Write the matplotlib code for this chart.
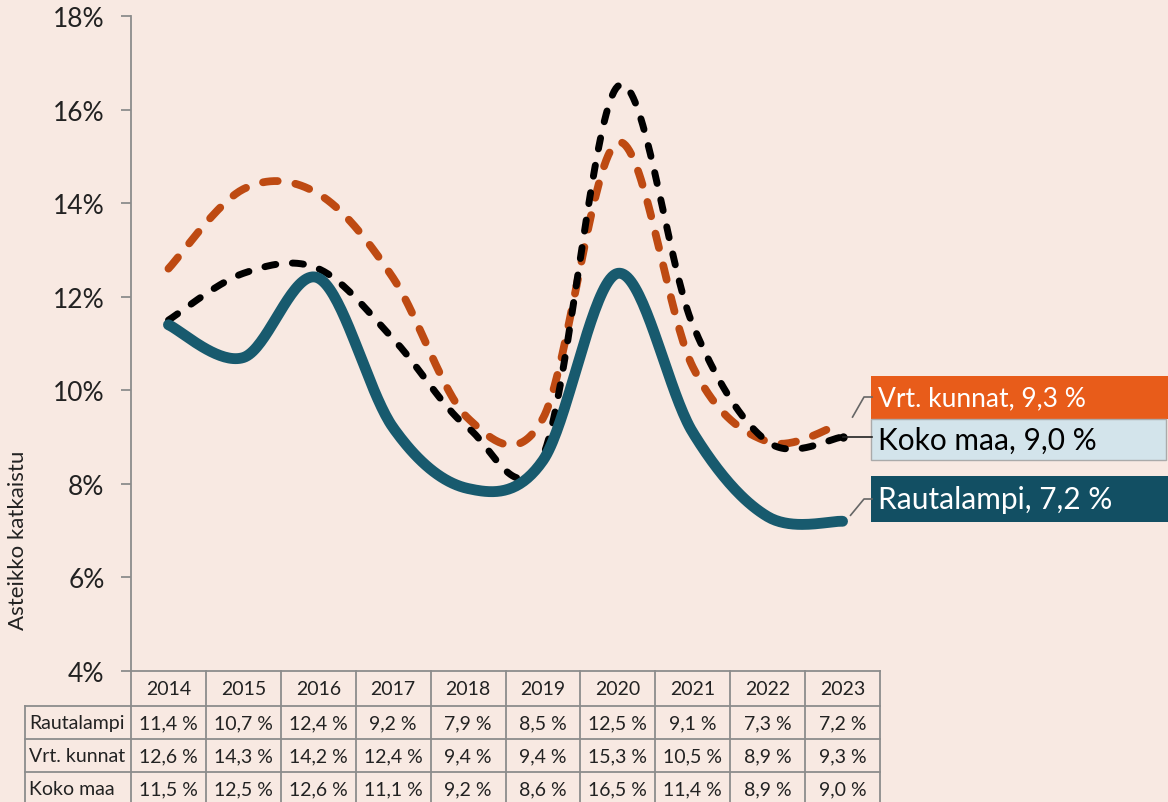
import matplotlib
matplotlib.use("Agg")
import matplotlib.pyplot as plt
import matplotlib.transforms as mtransforms
import numpy as np

years = ["2014", "2015", "2016", "2017", "2018", "2019", "2020", "2021", "2022", "2023"]
rautalampi = [11.4, 10.7, 12.4, 9.2, 7.9, 8.5, 12.5, 9.1, 7.3, 7.2]
vrt_kunnat = [12.6, 14.3, 14.2, 12.4, 9.4, 9.4, 15.3, 10.5, 8.9, 9.3]
koko_maa = [11.5, 12.5, 12.6, 11.1, 9.2, 8.6, 16.5, 11.4, 8.9, 9.0]
row_names = ["Rautalampi", "Vrt. kunnat", "Koko maa"]
y_ticks = [4, 6, 8, 10, 12, 14, 16, 18]

BG = "#F8E9E2"
TEAL = "#185A6E"
ORANGE = "#BE4A12"
W, H = 1168, 803

plt.rcParams['font.family'] = ['Lato', 'DejaVu Sans']


def fmt(v):
    return f"{v:.1f}".replace(".", ",") + " %"


def smooth(vals, n=40):
    # excel-like smoothed line (bezier, control points from neighbours)
    x = np.arange(len(vals), dtype=float)
    y = np.array(vals, dtype=float)
    xs, ys = [], []
    for i in range(len(x) - 1):
        i0 = max(i - 1, 0)
        i3 = min(i + 2, len(x) - 1)
        p0 = np.array([x[i], y[i]])
        p3 = np.array([x[i + 1], y[i + 1]])
        p1 = p0 + (np.array([x[i + 1], y[i + 1]]) - np.array([x[i0], y[i0]])) / 6
        p2 = p3 - (np.array([x[i3], y[i3]]) - np.array([x[i], y[i]])) / 6
        t = np.linspace(0, 1, n)[:, None]
        pts = (1 - t) ** 3 * p0 + 3 * (1 - t) ** 2 * t * p1 + 3 * (1 - t) * t ** 2 * p2 + t ** 3 * p3
        xs.extend(pts[:, 0])
        ys.extend(pts[:, 1])
    return np.array(xs), np.array(ys)


fig = plt.figure(figsize=(W / 100, H / 100), dpi=100, facecolor=BG)
ax = fig.add_axes([131 / W, 1 - 672 / H, (880 - 131) / W, (672 - 17) / H])
ax.set_facecolor(BG)

x1, y1 = smooth(vrt_kunnat)
ax.plot(x1, y1, color=ORANGE, lw=5.6, dashes=(1.9, 2.3), dash_capstyle='round')
x2, y2 = smooth(koko_maa)
ax.plot(x2, y2, color="black", lw=5.0, dashes=(1.6, 2.4), dash_capstyle='round')
x3, y3 = smooth(rautalampi)
ax.plot(x3, y3, color=TEAL, lw=7.8, solid_capstyle='round')

ax.set_xlim(-0.5, len(years) - 0.5)
ax.set_ylim(4, 18)
ax.set_yticks(y_ticks)
ax.set_yticklabels([f"{t}%" for t in y_ticks], fontsize=19, color="#222222")
ax.set_xticks([])
for s in ["top", "right", "bottom"]:
    ax.spines[s].set_visible(False)
ax.spines["left"].set_color("#8C8C8C")
ax.spines["left"].set_linewidth(1.3)
ax.tick_params(axis="y", direction="out", length=7, width=1.3, color="#8C8C8C", pad=12)
fig.text(18 / W, 1 - 540 / H, "Asteikko katkaistu", rotation=90, ha="center", va="center",
         fontsize=16, color="#222222")

# table under the chart
tr = mtransforms.blended_transform_factory(ax.transData, fig.transFigure)
grid = "#8C8C8C"
row_edges = [672, 707, 740, 773, 806]
left_px = 25
n = len(years)


def fy(p):
    return 1 - p / H


ax.plot([-0.5, n - 0.5], [fy(672)] * 2, transform=tr, color=grid, lw=1.3, clip_on=False)
for e in row_edges[1:]:
    ax.plot([left_px / W, 880 / W], [fy(e)] * 2, transform=fig.transFigure, color=grid,
            lw=1.3, clip_on=False)
for i in range(n + 1):
    ax.plot([i - 0.5, i - 0.5], [fy(672), fy(806)], transform=tr, color=grid, lw=1.3,
            clip_on=False)
ax.plot([left_px / W] * 2, [fy(707), fy(806)], transform=fig.transFigure, color=grid,
        lw=1.3, clip_on=False)

for i, yr in enumerate(years):
    ax.text(i, fy(690), yr, transform=tr, ha="center", va="center", fontsize=14,
            color="#222222")
for r, (name, vals) in enumerate(zip(row_names, [rautalampi, vrt_kunnat, koko_maa])):
    yc = fy((row_edges[r + 1] + row_edges[r + 2]) / 2)
    fig.text(29 / W, yc, name, ha="left", va="center", fontsize=14, color="#222222")
    for i, v in enumerate(vals):
        ax.text(i, yc, fmt(v), transform=tr, ha="center", va="center", fontsize=14,
                color="#222222")

# end labels
disp = ax.transData.transform
inv = fig.transFigure.inverted().transform


def to_px(x, y):
    fx_, fy_ = inv(disp((x, y)))
    return fx_ * W, (1 - fy_) * H


def fig_xy(px, py):
    return px / W, 1 - py / H


last = n - 1
ex, ey = to_px(last, vrt_kunnat[-1])
pts = [fig_xy(ex + 10, ey - 6), fig_xy(864, 398), fig_xy(872, 398)]
fig.add_artist(plt.Line2D([p[0] for p in pts], [p[1] for p in pts], color="#666666", lw=1.2))
ex, ey = to_px(last, koko_maa[-1])
ax.plot([last], [koko_maa[-1]], "o", color="black", ms=5)
pts = [fig_xy(ex, ey), fig_xy(872, ey)]
fig.add_artist(plt.Line2D([p[0] for p in pts], [p[1] for p in pts], color="#222222", lw=1.2))
ex, ey = to_px(last, rautalampi[-1])
pts = [fig_xy(ex + 8, ey - 6), fig_xy(864, 500), fig_xy(872, 500)]
fig.add_artist(plt.Line2D([p[0] for p in pts], [p[1] for p in pts], color="#666666", lw=1.2))

boxes = [
    (377, 420, "#E85C1A", "none", f"Vrt. kunnat, {fmt(vrt_kunnat[-1])}", "white", 19),
    (420, 461, "#D3E4EB", "#AAAAAA", f"Koko maa, {fmt(koko_maa[-1])}", "black", 21.5),
    (477, 523, "#124F63", "none", f"Rautalampi, {fmt(rautalampi[-1])}", "white", 21.5),
]
for top, bot, fc, ec, txt, tc, fs in boxes:
    right = 1168 if fc != "#D3E4EB" else 1166
    rect = plt.Rectangle((871 / W, 1 - bot / H), (right - 871) / W, (bot - top) / H,
                         transform=fig.transFigure, facecolor=fc, edgecolor=ec, lw=1.0)
    fig.add_artist(rect)
    fig.text(878 / W, 1 - (top + bot) / 2 / H, txt, ha="left", va="center", fontsize=fs,
             color=tc)

fig.savefig("out.png", dpi=100, facecolor=BG)
